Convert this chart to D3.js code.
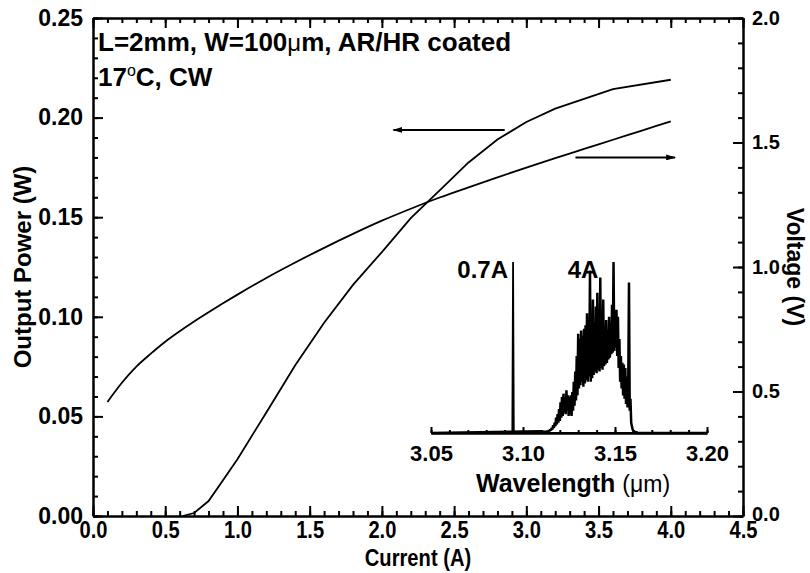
<!DOCTYPE html>
<html>
<head>
<meta charset="utf-8">
<script src="https://cdn.jsdelivr.net/npm/d3@7"></script>
<style>
  html, body { margin: 0; padding: 0; background: #fff; }
  svg { display: block; }
  text { font-family: "Liberation Sans", Arial, sans-serif; font-weight: bold; fill: #000; }
</style>
</head>
<body>
<svg id="chart" width="810" height="573"></svg>
<script>
// Light-current-voltage data of the laser (current in A)
const powerCurrent = [0.62, 0.7, 0.8, 0.9, 1.0, 1.2, 1.4, 1.6, 1.8, 2.0, 2.2, 2.4, 2.6, 2.8, 3.0, 3.2, 3.4, 3.6, 4.0];
const powerW       = [0, 0.0015, 0.0075, 0.018, 0.0285, 0.052, 0.0757, 0.097, 0.116, 0.1325, 0.1495, 0.1635, 0.1775, 0.189, 0.1978, 0.2045, 0.2094, 0.2143, 0.219];

const voltCurrent = [0.1, 0.2, 0.3, 0.4, 0.5, 0.6, 0.7, 0.8, 0.9, 1.0, 1.2, 1.4, 1.6, 1.8, 2.0, 2.2, 2.4, 2.6, 2.8, 3.0, 3.2, 3.4, 3.6, 3.8, 4.0];
const voltV       = [0.458, 0.535, 0.60, 0.652, 0.70, 0.742, 0.781, 0.818, 0.854, 0.889, 0.956, 1.018, 1.077, 1.133, 1.186, 1.234, 1.279, 1.32, 1.36, 1.399, 1.437, 1.474, 1.511, 1.548, 1.585];

// Axis ticks
const currentTicks = [0.0, 0.5, 1.0, 1.5, 2.0, 2.5, 3.0, 3.5, 4.0, 4.5];
const powerTicks   = [0.00, 0.05, 0.10, 0.15, 0.20, 0.25];
const voltTicks    = [0.0, 0.5, 1.0, 1.5, 2.0];
const waveTicks    = [3.05, 3.10, 3.15, 3.20];

// Emission spectra (normalised intensity)
const spec07Wave = [3.05, 3.0942, 3.0946, 3.0950, 3.20];
const spec07Int  = [0, 0, 1.0, 0, 0];

// 4 A spectrum: sampled every 0.4 nm starting at 3.110 um
const spec4Start = 3.110, spec4Step = 0.0004;
const spec4Int = [
  0.01, 0.00, 0.01, 0.005, 0.01, 0.00, 0.012, 0.005, 0.01, 0.008,
  0.015, 0.01, 0.02, 0.015, 0.03, 0.02, 0.045, 0.03, 0.06, 0.04,
  0.09, 0.05, 0.11, 0.06, 0.14, 0.07, 0.18, 0.09, 0.21, 0.10,
  0.23, 0.12, 0.20, 0.11, 0.25, 0.13, 0.22, 0.10, 0.21, 0.11,
  0.22, 0.10, 0.24, 0.13, 0.30, 0.16, 0.36, 0.19, 0.45, 0.22,
  0.58, 0.26, 0.55, 0.28, 0.60, 0.30, 0.57, 0.27, 0.61, 0.29,
  0.63, 0.31, 0.70, 0.30, 0.62, 0.33, 0.95, 0.30, 0.66, 0.32,
  0.78, 0.34, 0.64, 0.36, 0.74, 0.35, 0.82, 0.37, 0.68, 0.36,
  0.91, 0.38, 0.70, 0.37, 0.78, 0.39, 0.62, 0.40, 0.66, 0.41,
  0.60, 0.43, 0.68, 0.44, 0.63, 0.46, 0.75, 0.47, 1.00, 0.48,
  0.70, 0.50, 0.72, 0.45, 0.68, 0.38, 0.55, 0.30, 0.45, 0.26,
  0.41, 0.22, 0.40, 0.20, 0.38, 0.17, 0.33, 0.15, 0.30, 0.88,
  0.13, 0.20, 0.06, 0.04, 0.02, 0.01, 0.005, 0.01, 0.00, 0.008,
  0.00
];

const svg = d3.select("#chart");

// Main frame
const L = 93, R = 743, T = 18, B = 516;
const x  = d3.scaleLinear().domain([0, 4.5]).range([L, R]);
const yP = d3.scaleLinear().domain([0, 0.25]).range([B, T]);
const yV = d3.scaleLinear().domain([0, 2.0]).range([B, T]);

const minorRange = (a, b, s) => d3.range(Math.round((b - a) / s) + 1).map(i => +(a + i * s).toFixed(4));
const xMinor = minorRange(0, 4.5, 0.1);
const pMinor = minorRange(0, 0.25, 0.01);
const vMinor = minorRange(0, 2.0, 0.1);

function styleAxis(g) {
  g.selectAll("path.domain").attr("stroke", "#000").attr("stroke-width", 2);
  g.selectAll(".tick line").attr("stroke", "#000").attr("stroke-width", 2);
  g.selectAll(".tick text").attr("fill", "#000")
    .attr("font-family", '"Liberation Sans", Arial, sans-serif').attr("font-weight", "bold");
  return g;
}

// bottom (condensed labels)
svg.append("g").attr("transform", `translate(0,${B})`)
  .call(d3.axisBottom(x).tickValues(xMinor).tickSize(-5).tickSizeOuter(0).tickFormat(""))
  .call(styleAxis);
svg.append("g").attr("transform", `translate(0,${B})`)
  .call(d3.axisBottom(x).tickValues(currentTicks).tickSize(-10).tickSizeOuter(0).tickPadding(5).tickFormat(d3.format(".1f")))
  .call(styleAxis)
  .call(g => g.selectAll("text").attr("font-size", 24).attr("transform", "scale(0.84,1)"));
// top
svg.append("g").attr("transform", `translate(0,${T})`)
  .call(d3.axisTop(x).tickValues(xMinor).tickSize(-5).tickSizeOuter(0).tickFormat(""))
  .call(styleAxis);
svg.append("g").attr("transform", `translate(0,${T})`)
  .call(d3.axisTop(x).tickValues(currentTicks).tickSize(-10).tickSizeOuter(0).tickFormat(""))
  .call(styleAxis);
// left
svg.append("g").attr("transform", `translate(${L},0)`)
  .call(d3.axisLeft(yP).tickValues(pMinor).tickSize(-5).tickSizeOuter(0).tickFormat(""))
  .call(styleAxis);
svg.append("g").attr("transform", `translate(${L},0)`)
  .call(d3.axisLeft(yP).tickValues(powerTicks).tickSize(-10).tickSizeOuter(0).tickPadding(10).tickFormat(d3.format(".2f")))
  .call(styleAxis)
  .call(g => g.selectAll("text").attr("font-size", 23));
// right
svg.append("g").attr("transform", `translate(${R},0)`)
  .call(d3.axisRight(yV).tickValues(vMinor).tickSize(-5).tickSizeOuter(0).tickFormat(""))
  .call(styleAxis);
svg.append("g").attr("transform", `translate(${R},0)`)
  .call(d3.axisRight(yV).tickValues(voltTicks).tickSize(-10).tickSizeOuter(0).tickPadding(9).tickFormat(d3.format(".1f")))
  .call(styleAxis)
  .call(g => g.selectAll("text").attr("font-size", 20))
  .call(g => g.selectAll(".tick").filter(d => d === 0).select("text").attr("dy", "0.2em"));

// Axis titles
svg.append("text")
  .attr("transform", `translate(${x(2.25)},566) scale(0.84,1)`)
  .attr("text-anchor", "middle").attr("font-size", 24)
  .text("Current (A)");
svg.append("text")
  .attr("transform", `translate(31,${(T + B) / 2}) rotate(-90)`)
  .attr("text-anchor", "middle").attr("font-size", 24)
  .text("Output Power (W)");
svg.append("text")
  .attr("transform", `translate(787,${(T + B) / 2}) rotate(90)`)
  .attr("text-anchor", "middle").attr("font-size", 23)
  .text("Voltage (V)");

// Curves
const powerPts = powerCurrent.map((c, i) => [c, powerW[i]]);
const voltPts  = voltCurrent.map((c, i) => [c, voltV[i]]);
svg.append("path").datum(powerPts)
  .attr("fill", "none").attr("stroke", "#000").attr("stroke-width", 1.8)
  .attr("d", d3.line().x(d => x(d[0])).y(d => yP(d[1])));
svg.append("path").datum(voltPts)
  .attr("fill", "none").attr("stroke", "#000").attr("stroke-width", 1.8)
  .attr("d", d3.line().x(d => x(d[0])).y(d => yV(d[1])).curve(d3.curveMonotoneX));

// Arrows pointing to each curve's axis
const defs = svg.append("defs");
defs.append("marker").attr("id", "head").attr("viewBox", "0 0 10 6")
  .attr("refX", 9).attr("refY", 3).attr("markerWidth", 10).attr("markerHeight", 6)
  .attr("markerUnits", "userSpaceOnUse").attr("orient", "auto")
  .append("path").attr("d", "M0,0 L10,3 L0,6 Z").attr("fill", "#000");
svg.append("line")
  .attr("x1", x(2.85)).attr("x2", x(2.08)).attr("y1", yP(0.1938)).attr("y2", yP(0.1938))
  .attr("stroke", "#000").attr("stroke-width", 2).attr("marker-end", "url(#head)");
svg.append("line")
  .attr("x1", x(3.34)).attr("x2", x(4.03)).attr("y1", yV(1.44)).attr("y2", yV(1.44))
  .attr("stroke", "#000").attr("stroke-width", 2).attr("marker-end", "url(#head)");

// Conditions
const note = svg.append("text").attr("x", 98).attr("y", 51).attr("font-size", 26);
note.append("tspan").text("L=2mm, W=100");
note.append("tspan").attr("font-weight", "normal").attr("font-size", 24).text("μ");
note.append("tspan").text("m, AR/HR coated");
const note2 = svg.append("text").attr("x", 98).attr("y", 86).attr("font-size", 26);
note2.append("tspan").text("17");
note2.append("tspan").attr("font-weight", "normal").attr("dy", -10).attr("font-size", 16).text("o");
note2.append("tspan").attr("dy", 10).text("C, CW");

// Inset: emission spectra
const xs = d3.scaleLinear().domain([3.05, 3.20]).range([431, 707]);
const ys = d3.scaleLinear().domain([0, 1]).range([433, 262]);

const spec4Pts = [[3.05, 0]].concat(spec4Int.map((v, i) => [spec4Start + i * spec4Step, v])).concat([[3.20, 0]]);
const spec07Pts = spec07Wave.map((w, i) => [w, spec07Int[i]]);
const specLine = d3.line().x(d => xs(d[0])).y(d => ys(d[1]));
svg.append("path").datum(spec07Pts).attr("fill", "none").attr("stroke", "#000").attr("stroke-width", 1.8).attr("d", specLine);
svg.append("path").datum(spec4Pts).attr("fill", "none").attr("stroke", "#000").attr("stroke-width", 2.5).attr("stroke-linejoin", "bevel").attr("d", specLine);

svg.append("g").attr("transform", "translate(0,433)")
  .call(d3.axisBottom(xs).tickValues(minorRange(3.05, 3.20, 0.01)).tickSize(-3).tickSizeOuter(0).tickFormat(""))
  .call(styleAxis);
svg.append("g").attr("transform", "translate(0,433)")
  .call(d3.axisBottom(xs).tickValues(waveTicks).tickSize(-6).tickSizeOuter(0).tickPadding(12).tickFormat(d3.format(".2f")))
  .call(styleAxis)
  .call(g => g.selectAll("text").attr("font-size", 22));

const wl = svg.append("text").attr("x", 476).attr("y", 492).attr("font-size", 25);
wl.append("tspan").text("Wavelength ");
wl.append("tspan").attr("font-weight", "normal").attr("font-size", 23).text("(μm)");

svg.append("text").attr("x", 508).attr("y", 278).attr("text-anchor", "end").attr("font-size", 24).text("0.7A");
svg.append("text").attr("x", 583).attr("y", 278).attr("text-anchor", "middle").attr("font-size", 24).text("4A");
</script>
</body>
</html>
